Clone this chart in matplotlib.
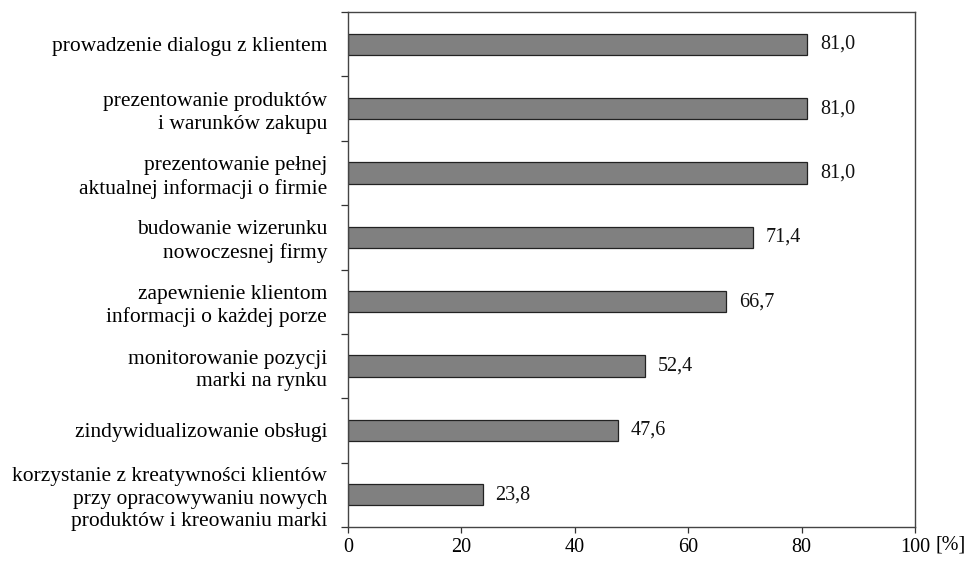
import matplotlib
matplotlib.use("Agg")
import matplotlib.pyplot as plt
import numpy as np

categories = [
    "prowadzenie dialogu z klientem",
    "prezentowanie produktów\ni warunków zakupu",
    "prezentowanie pełnej\naktualnej informacji o firmie",
    "budowanie wizerunku\nnowoczesnej firmy",
    "zapewnienie klientom\ninformacji o każdej porze",
    "monitorowanie pozycji\nmarki na rynku",
    "zindywidualizowanie obsługi",
    "korzystanie z kreatywności klientów\nprzy opracowywaniu nowych\nproduktów i kreowaniu marki",
]
values = [81.0, 81.0, 81.0, 71.4, 66.7, 52.4, 47.6, 23.8]
x_ticks = [0, 20, 40, 60, 80, 100]

plt.rcParams["font.family"] = ["Liberation Serif", "DejaVu Serif"]
plt.rcParams["font.size"] = 14.5

fig = plt.figure(figsize=(9.74, 5.61), dpi=100)
ax = fig.add_axes([348 / 974, 34 / 561, 567 / 974, 515 / 561])

n = len(categories)
pos = np.arange(n) + 0.5
ax.barh(pos, values, height=0.33, color="#808080", edgecolor="#222222", linewidth=0.9)

for y, v in zip(pos, values):
    ax.annotate(f"{v:.1f}".replace(".", ","), xy=(v, y), xytext=(9, 0),
                textcoords="offset points", va="center", ha="left", color="#111111")

ax.set_xlim(0, 100)
ax.set_ylim(n, 0)

ax.set_xticks(x_ticks)
ax.set_xticklabels([str(t) for t in x_ticks])
ax.tick_params(axis="x", direction="out", length=4, width=0.9, color="#333333", pad=4)

ax.set_yticks(pos)
ax.set_yticklabels(categories, ha="right", multialignment="right", linespacing=1.25,
                   fontsize=15.5)
ax.tick_params(axis="y", which="major", length=0, pad=15)
ax.set_yticks(np.arange(n + 1), minor=True)
ax.tick_params(axis="y", which="minor", direction="out", length=5, width=0.9, color="#333333")

for sp in ax.spines.values():
    sp.set_color("#444444")
    sp.set_linewidth(1.0)

ax.annotate("[%]", xy=(100, 0), xycoords=("data", "axes fraction"), xytext=(15, -6),
            textcoords="offset points", ha="left", va="top")

fig.savefig("out.png", dpi=100)
